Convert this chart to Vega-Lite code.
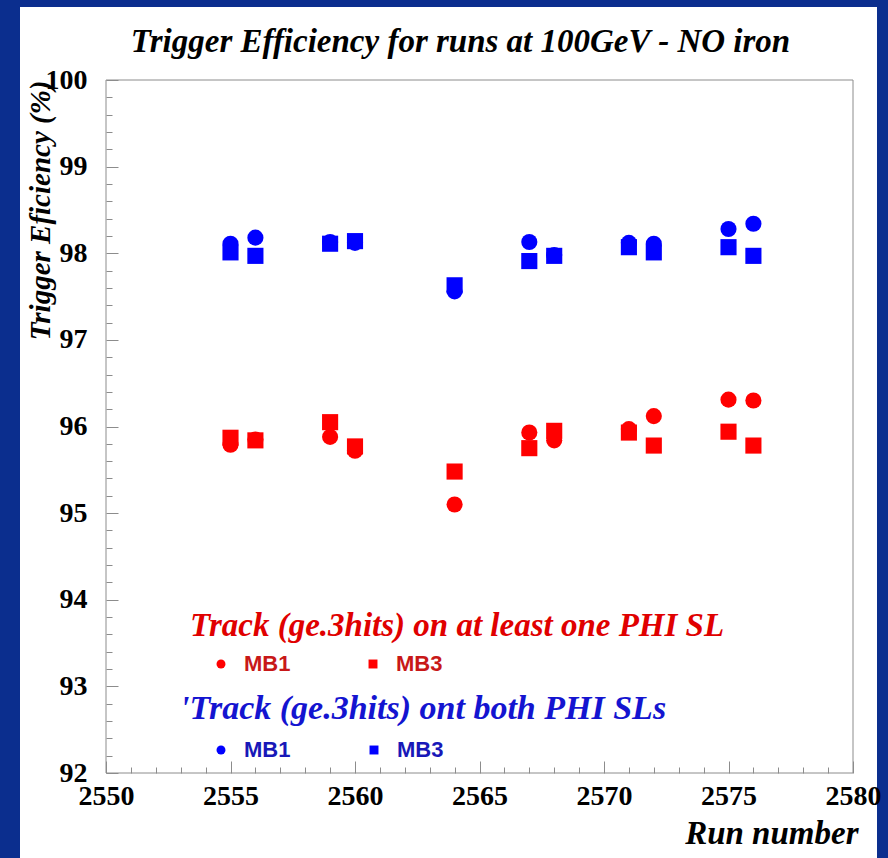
{
  "$schema": "https://vega.github.io/schema/vega-lite/v6.json",
  "width": 857,
  "height": 851,
  "autosize": "none",
  "padding": {"left": 20, "top": 7, "right": 11, "bottom": 0},
  "background": "#0b2e8e",
  "config": {
    "view": {"fill": "white", "stroke": null},
    "legend": {"padding": 0}
  },
  "title": {
    "text": "Trigger Efficiency for runs at 100GeV - NO iron",
    "font": "Liberation Serif",
    "fontStyle": "italic",
    "fontWeight": "bold",
    "fontSize": 33,
    "color": "black",
    "anchor": "middle",
    "frame": "group",
    "offset": 0,
    "baseline": "alphabetic",
    "dx": 12,
    "dy": 78
  },
  "datasets": {
    "one": [
      {"run": 2555, "eff": 95.79, "chamber": "MB1"},
      {"run": 2555, "eff": 95.87, "chamber": "MB3"},
      {"run": 2556, "eff": 95.85, "chamber": "MB1"},
      {"run": 2556, "eff": 95.84, "chamber": "MB3"},
      {"run": 2559, "eff": 95.88, "chamber": "MB1"},
      {"run": 2559, "eff": 96.05, "chamber": "MB3"},
      {"run": 2560, "eff": 95.72, "chamber": "MB1"},
      {"run": 2560, "eff": 95.77, "chamber": "MB3"},
      {"run": 2564, "eff": 95.10, "chamber": "MB1"},
      {"run": 2564, "eff": 95.48, "chamber": "MB3"},
      {"run": 2567, "eff": 95.93, "chamber": "MB1"},
      {"run": 2567, "eff": 95.75, "chamber": "MB3"},
      {"run": 2568, "eff": 95.84, "chamber": "MB1"},
      {"run": 2568, "eff": 95.95, "chamber": "MB3"},
      {"run": 2571, "eff": 95.97, "chamber": "MB1"},
      {"run": 2571, "eff": 95.93, "chamber": "MB3"},
      {"run": 2572, "eff": 96.12, "chamber": "MB1"},
      {"run": 2572, "eff": 95.78, "chamber": "MB3"},
      {"run": 2575, "eff": 96.31, "chamber": "MB1"},
      {"run": 2575, "eff": 95.94, "chamber": "MB3"},
      {"run": 2576, "eff": 96.30, "chamber": "MB1"},
      {"run": 2576, "eff": 95.78, "chamber": "MB3"}
    ],
    "both": [
      {"run": 2555, "eff": 98.11, "chamber": "MB1"},
      {"run": 2555, "eff": 98.01, "chamber": "MB3"},
      {"run": 2556, "eff": 98.18, "chamber": "MB1"},
      {"run": 2556, "eff": 97.97, "chamber": "MB3"},
      {"run": 2559, "eff": 98.13, "chamber": "MB1"},
      {"run": 2559, "eff": 98.11, "chamber": "MB3"},
      {"run": 2560, "eff": 98.12, "chamber": "MB1"},
      {"run": 2560, "eff": 98.14, "chamber": "MB3"},
      {"run": 2564, "eff": 97.56, "chamber": "MB1"},
      {"run": 2564, "eff": 97.63, "chamber": "MB3"},
      {"run": 2567, "eff": 98.13, "chamber": "MB1"},
      {"run": 2567, "eff": 97.91, "chamber": "MB3"},
      {"run": 2568, "eff": 97.98, "chamber": "MB1"},
      {"run": 2568, "eff": 97.97, "chamber": "MB3"},
      {"run": 2571, "eff": 98.12, "chamber": "MB1"},
      {"run": 2571, "eff": 98.07, "chamber": "MB3"},
      {"run": 2572, "eff": 98.11, "chamber": "MB1"},
      {"run": 2572, "eff": 98.01, "chamber": "MB3"},
      {"run": 2575, "eff": 98.28, "chamber": "MB1"},
      {"run": 2575, "eff": 98.07, "chamber": "MB3"},
      {"run": 2576, "eff": 98.34, "chamber": "MB1"},
      {"run": 2576, "eff": 97.97, "chamber": "MB3"}
    ],
    "frame": [{}]
  },
  "layer": [
    {
      "data": {"name": "one"},
      "mark": {"type": "point", "filled": true, "size": 260, "color": "#ff0000", "opacity": 1, "strokeWidth": 0},
      "encoding": {
        "x": {
          "field": "run", "type": "quantitative",
          "scale": {"domain": [2550, 2580], "range": [86, 833], "nice": false, "zero": false},
          "axis": {
            "orient": "bottom",
            "offset": -85,
            "values": [2550, 2555, 2560, 2565, 2570, 2575, 2580],
            "format": "d",
            "tickSize": -12,
            "tickColor": "#8c8c8c",
            "domain": false,
            "grid": false,
            "labelFont": "Liberation Serif",
            "labelFontWeight": "bold",
            "labelFontSize": 28,
            "labelColor": "black",
            "labelPadding": 21,
            "labelOverlap": false,
            "labelFlush": false,
            "title": "Run number",
            "titleX": 838,
            "titleY": 60,
            "titleAlign": "right",
            "titleBaseline": "middle",
            "titleFont": "Liberation Serif",
            "titleFontStyle": "italic",
            "titleFontWeight": "bold",
            "titleFontSize": 33,
            "titleColor": "black"
          }
        },
        "y": {
          "field": "eff", "type": "quantitative",
          "scale": {"domain": [92, 100], "range": [766, 73], "nice": false, "zero": false},
          "axis": {
            "orient": "left",
            "offset": -86,
            "values": [92, 93, 94, 95, 96, 97, 98, 99, 100],
            "format": "d",
            "tickSize": -12,
            "tickColor": "#8c8c8c",
            "domain": false,
            "grid": false,
            "labelFont": "Liberation Serif",
            "labelFontWeight": "bold",
            "labelFontSize": 28,
            "labelColor": "black",
            "labelPadding": 31,
            "labelOverlap": false,
            "labelFlush": false,
            "title": "Trigger Eficiency (%)",
            "titleX": -66,
            "titleY": 73,
            "titleAngle": -90,
            "titleAlign": "right",
            "titleBaseline": "middle",
            "titleFont": "Liberation Serif",
            "titleFontStyle": "italic",
            "titleFontWeight": "bold",
            "titleFontSize": 29,
            "titleColor": "black"
          }
        },
        "shape": {
          "field": "chamber", "type": "nominal",
          "scale": {"domain": ["MB1", "MB3"], "range": ["circle", "square"]},
          "legend": {
            "orient": "none",
            "legendX": 170,
            "legendY": 603,
            "direction": "horizontal",
            "columns": 2,
            "title": "Track (ge.3hits) on at least one PHI SL",
            "titleFont": "Liberation Serif",
            "titleFontStyle": "italic",
            "titleFontWeight": "bold",
            "titleFontSize": 33,
            "titleColor": "#e00000",
            "titleLimit": 0,
            "titlePadding": 10,
            "labelFont": "Liberation Sans",
            "labelFontWeight": "bold",
            "labelFontSize": 22,
            "labelColor": "#c81818",
            "labelLimit": 0,
            "labelOffset": 12,
            "symbolSize": 80,
            "symbolFillColor": "#e00000",
            "symbolStrokeWidth": 0,
            "symbolOffset": 20,
            "columnPadding": 51
          }
        }
      }
    },
    {
      "data": {"name": "both"},
      "mark": {"type": "point", "filled": true, "size": 260, "color": "#0000ff", "opacity": 1, "strokeWidth": 0},
      "encoding": {
        "x": {
          "field": "run", "type": "quantitative",
          "scale": {"domain": [2550, 2580], "range": [86, 833], "nice": false, "zero": false},
          "axis": {
            "orient": "bottom",
            "offset": -85,
            "values": [2551,2552,2553,2554,2556,2557,2558,2559,2561,2562,2563,2564,2566,2567,2568,2569,2571,2572,2573,2574,2576,2577,2578,2579],
            "tickSize": -6,
            "tickColor": "#8c8c8c",
            "domain": false,
            "grid": false,
            "labels": false,
            "title": null
          }
        },
        "y": {
          "field": "eff", "type": "quantitative",
          "scale": {"domain": [92, 100], "range": [766, 73], "nice": false, "zero": false},
          "axis": {
            "orient": "left",
            "offset": -86,
            "values": [92.2,92.4,92.6,92.8,93.2,93.4,93.6,93.8,94.2,94.4,94.6,94.8,95.2,95.4,95.6,95.8,96.2,96.4,96.6,96.8,97.2,97.4,97.6,97.8,98.2,98.4,98.6,98.8,99.2,99.4,99.6,99.8],
            "tickSize": -6,
            "tickColor": "#8c8c8c",
            "domain": false,
            "grid": false,
            "labels": false,
            "title": null
          }
        },
        "shape": {
          "field": "chamber", "type": "nominal",
          "scale": {"domain": ["MB1", "MB3"], "range": ["circle", "square"]},
          "legend": {
            "orient": "none",
            "legendX": 160,
            "legendY": 685,
            "direction": "horizontal",
            "columns": 2,
            "title": "'Track (ge.3hits) ont both PHI SLs",
            "titleFont": "Liberation Serif",
            "titleFontStyle": "italic",
            "titleFontWeight": "bold",
            "titleFontSize": 34,
            "titleColor": "#1414d0",
            "titleLimit": 0,
            "titlePadding": 13,
            "labelFont": "Liberation Sans",
            "labelFontWeight": "bold",
            "labelFontSize": 22,
            "labelColor": "#1818b8",
            "labelLimit": 0,
            "labelOffset": 12,
            "symbolSize": 80,
            "symbolFillColor": "#1010d0",
            "symbolStrokeWidth": 0,
            "symbolOffset": 30,
            "columnPadding": 42
          }
        }
      }
    },
    {
      "data": {"name": "frame"},
      "mark": {"type": "rect", "fill": "white", "fillOpacity": 0, "stroke": "#8c8c8c", "strokeWidth": 1},
      "encoding": {
        "x": {"datum": 2550, "type": "quantitative", "scale": {"domain": [2550, 2580], "range": [86, 833], "nice": false, "zero": false}, "axis": null},
        "x2": {"datum": 2580},
        "y": {"datum": 92, "type": "quantitative", "scale": {"domain": [92, 100], "range": [766, 73], "nice": false, "zero": false}, "axis": null},
        "y2": {"datum": 100}
      }
    }
  ],
  "resolve": {
    "scale": {"shape": "independent"},
    "legend": {"shape": "independent"},
    "axis": {"x": "independent", "y": "independent"}
  }
}
